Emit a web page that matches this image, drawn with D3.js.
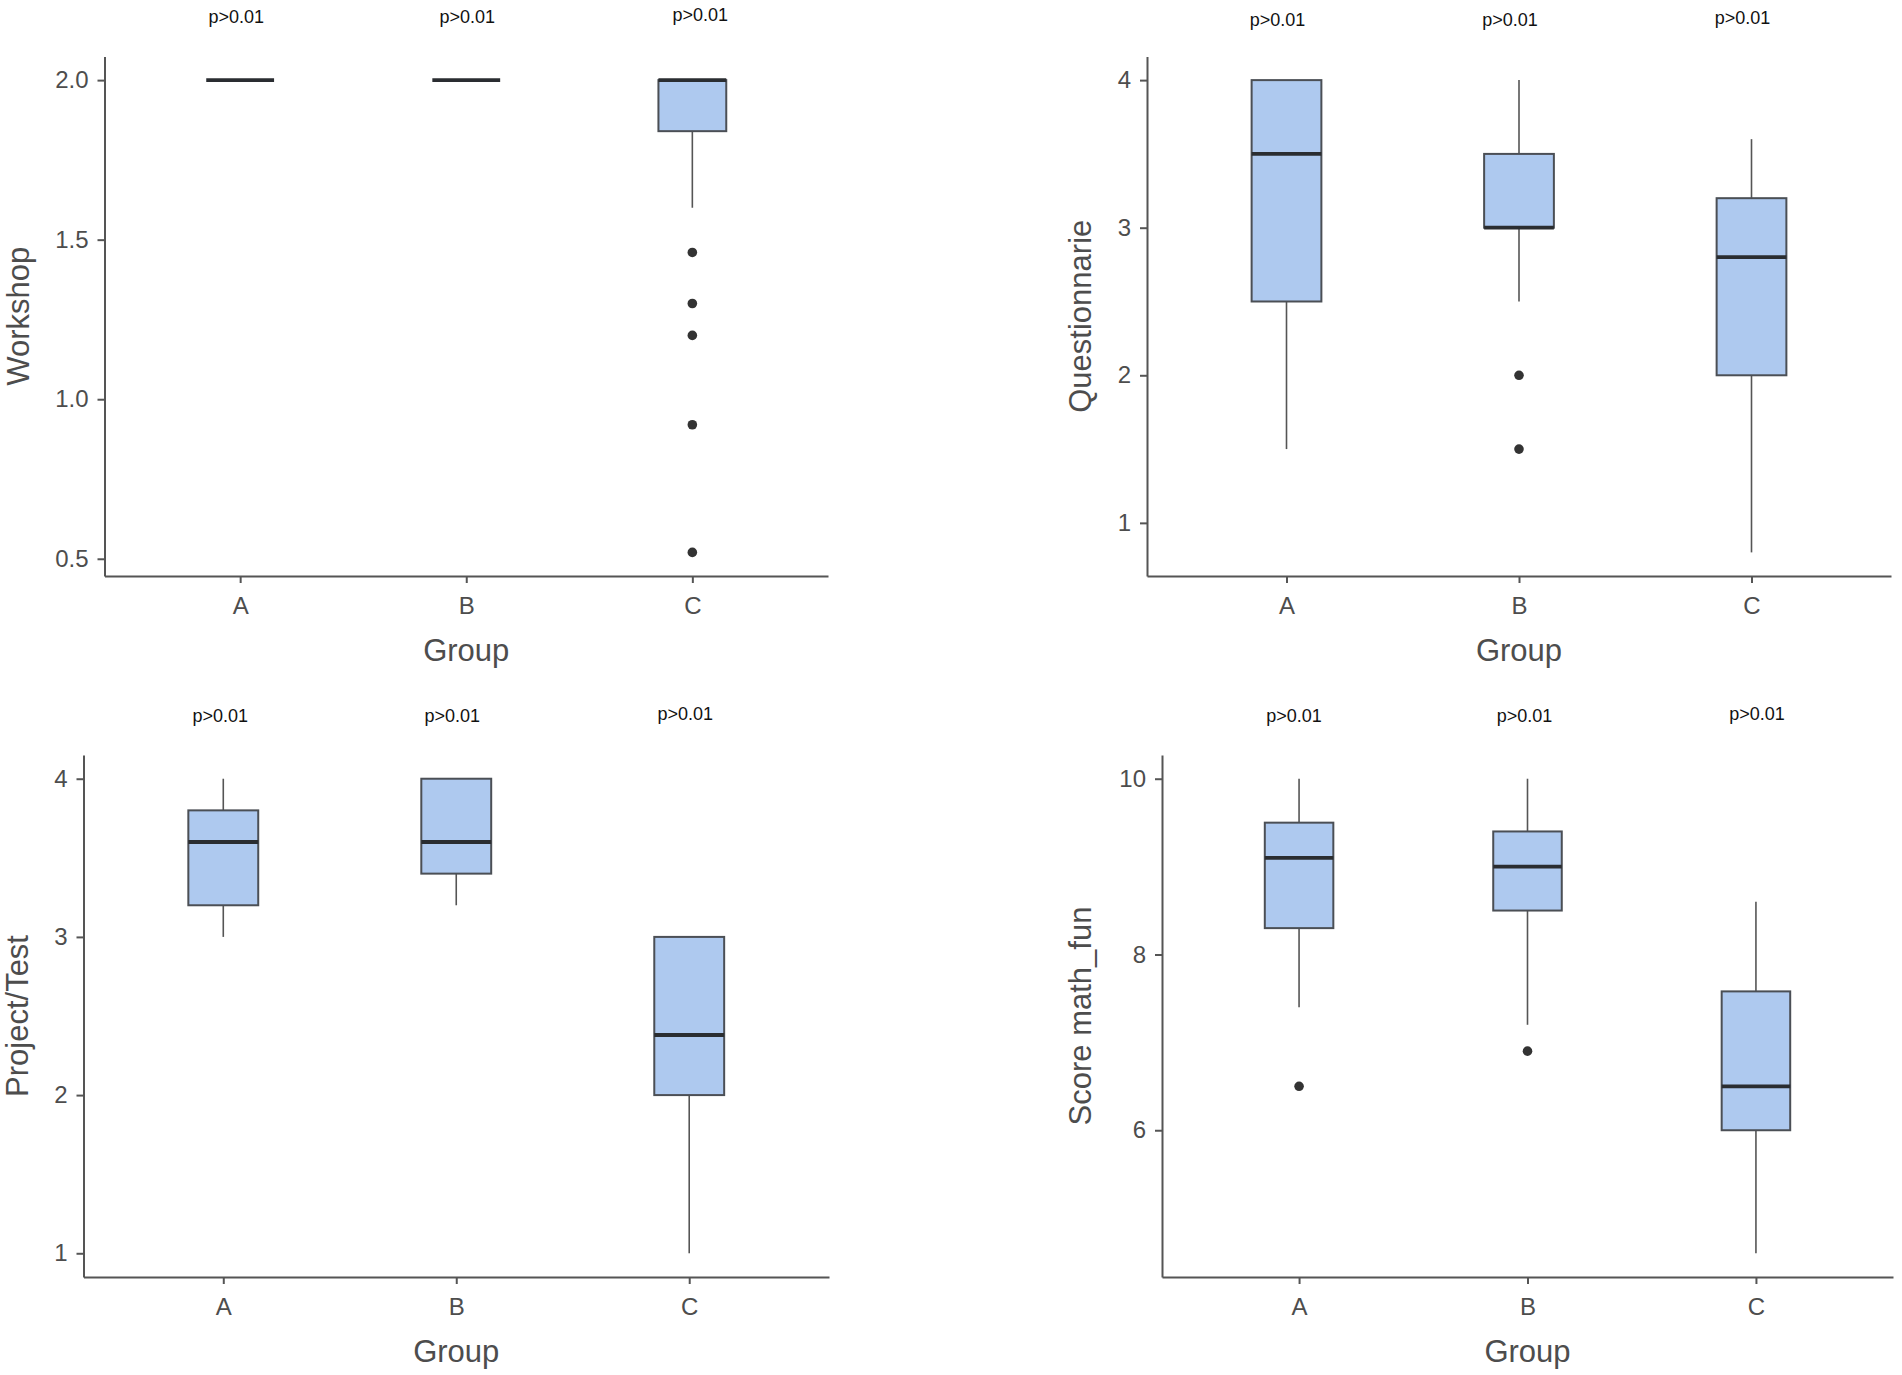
<!DOCTYPE html>
<html>
<head>
<meta charset="utf-8">
<script src="https://cdn.jsdelivr.net/npm/d3@7"></script>
<style>
  body { margin: 0; background: #fff; }
  svg { display: block; }
</style>
</head>
<body>
<svg id="chart" width="1902" height="1375"></svg>
<script>
const groups = ['A', 'B', 'C'];
const pLabels = ['p>0.01', 'p>0.01', 'p>0.01'];

// Workshop
const workshopLow = [2, 2, 1.6];
const workshopQ1 = [2, 2, 1.84];
const workshopMedian = [2, 2, 2];
const workshopQ3 = [2, 2, 2];
const workshopHigh = [2, 2, 2];
const workshopOutliers = [[], [], [1.46, 1.3, 1.2, 0.92, 0.52]];
const workshopTicks = [0.5, 1.0, 1.5, 2.0];

// Questionnarie
const questLow = [1.5, 2.5, 0.8];
const questQ1 = [2.5, 3.0, 2.0];
const questMedian = [3.5, 3.0, 2.8];
const questQ3 = [4.0, 3.5, 3.2];
const questHigh = [4.0, 4.0, 3.6];
const questOutliers = [[], [2.0, 1.5], []];
const questTicks = [1, 2, 3, 4];

// Project/Test
const projectLow = [3.0, 3.2, 1.0];
const projectQ1 = [3.2, 3.4, 2.0];
const projectMedian = [3.6, 3.6, 2.38];
const projectQ3 = [3.8, 4.0, 3.0];
const projectHigh = [4.0, 4.0, 3.0];
const projectOutliers = [[], [], []];
const projectTicks = [1, 2, 3, 4];

// Score math_fun
const scoreLow = [7.4, 7.2, 4.6];
const scoreQ1 = [8.3, 8.5, 6.0];
const scoreMedian = [9.1, 9.0, 6.5];
const scoreQ3 = [9.5, 9.4, 7.58];
const scoreHigh = [10, 10, 8.6];
const scoreOutliers = [[6.5], [6.9], []];
const scoreTicks = [6, 8, 10];

const boxFill = '#aec9ef';
const boxStroke = '#4b4f55';
const textGray = '#4d4d4d';
const axisColor = '#555';

const svg = d3.select('#chart');

function buildBoxes(low, q1, med, q3, high, outliers) {
  return groups.map((g, i) => ({
    group: g, low: low[i], q1: q1[i], median: med[i], q3: q3[i], high: high[i], outliers: outliers[i]
  }));
}

function drawPanel(opt) {
  const boxes = buildBoxes(...opt.stats);
  const allVals = boxes.flatMap(b => [b.low, b.high, ...b.outliers]);
  const lo = d3.min(allVals), hi = d3.max(allVals);
  const pad = (hi - lo) * 0.05;

  const x = d3.scalePoint().domain(groups).range([opt.left, opt.right]).padding(0.6);
  const y = d3.scaleLinear().domain([lo - pad, hi + pad]).range([opt.bottom, opt.top]);
  const boxW = x.step() * 0.3;

  const g = svg.append('g');

  // axes
  const yAxis = g.append('g')
    .attr('transform', `translate(${opt.left},0)`)
    .call(d3.axisLeft(y).tickValues(opt.ticks).tickFormat(opt.fmt).tickSize(7).tickSizeOuter(0).tickPadding(9));
  const xAxis = g.append('g')
    .attr('transform', `translate(0,${opt.bottom})`)
    .call(d3.axisBottom(x).tickSize(7).tickSizeOuter(0).tickPadding(14));

  [yAxis, xAxis].forEach(a => {
    a.select('.domain').attr('stroke', axisColor).attr('stroke-width', 2);
    a.selectAll('.tick line').attr('stroke', axisColor).attr('stroke-width', 2);
    a.selectAll('.tick text')
      .attr('fill', textGray)
      .style('font-family', '"Liberation Sans", Arial, sans-serif')
      .style('font-size', '24px');
  });

  // axis titles
  g.append('text')
    .attr('x', (opt.left + opt.right) / 2)
    .attr('y', opt.bottom + 74)
    .attr('text-anchor', 'middle')
    .attr('dominant-baseline', 'central')
    .attr('fill', textGray)
    .style('font-family', '"Liberation Sans", Arial, sans-serif')
    .style('font-size', '31px')
    .text('Group');

  g.append('text')
    .attr('transform', `translate(${opt.titleX},${(opt.top + opt.bottom) / 2}) rotate(-90)`)
    .attr('text-anchor', 'middle')
    .attr('dominant-baseline', 'central')
    .attr('fill', textGray)
    .style('font-family', '"Liberation Sans", Arial, sans-serif')
    .style('font-size', '31px')
    .text(opt.title);

  const bx = g.selectAll('.box').data(boxes).enter().append('g');

  // whiskers
  bx.append('line')
    .attr('x1', d => x(d.group)).attr('x2', d => x(d.group))
    .attr('y1', d => y(d.q3)).attr('y2', d => y(d.high))
    .attr('stroke', '#555').attr('stroke-width', 1.6);
  bx.append('line')
    .attr('x1', d => x(d.group)).attr('x2', d => x(d.group))
    .attr('y1', d => y(d.q1)).attr('y2', d => y(d.low))
    .attr('stroke', '#555').attr('stroke-width', 1.6);

  // box
  bx.append('rect')
    .attr('x', d => x(d.group) - boxW / 2)
    .attr('width', boxW)
    .attr('y', d => y(d.q3))
    .attr('height', d => y(d.q1) - y(d.q3))
    .attr('fill', boxFill)
    .attr('stroke', boxStroke)
    .attr('stroke-width', 2);

  // median
  bx.append('line')
    .attr('x1', d => x(d.group) - boxW / 2).attr('x2', d => x(d.group) + boxW / 2)
    .attr('y1', d => y(d.median)).attr('y2', d => y(d.median))
    .attr('stroke', '#2a2d31').attr('stroke-width', 3.8);

  // outliers
  bx.selectAll('circle').data(d => d.outliers.map(v => ({ group: d.group, v }))).enter()
    .append('circle')
    .attr('cx', d => x(d.group))
    .attr('cy', d => y(d.v))
    .attr('r', 4.8)
    .attr('fill', '#333');

  // p-value annotations (placed by hand in the original, hence the small nudges)
  g.selectAll('.plab').data(groups).enter().append('text')
    .attr('x', (d, i) => x(d) + opt.pDx[i])
    .attr('y', (d, i) => opt.pY - (i === 2 ? 2 : 0))
    .attr('text-anchor', 'middle')
    .attr('dominant-baseline', 'central')
    .attr('fill', '#111')
    .style('font-family', '"Liberation Sans Narrow", "Liberation Sans", Arial, sans-serif')
    .style('font-size', '18px')
    .text((d, i) => pLabels[i]);
}

drawPanel({
  stats: [workshopLow, workshopQ1, workshopMedian, workshopQ3, workshopHigh, workshopOutliers],
  ticks: workshopTicks, fmt: d3.format('.1f'), title: 'Workshop',
  left: 104.5, right: 828, top: 56.5, bottom: 576, titleX: 18, pY: 17, pDx: [-4, 1, 8]
});
drawPanel({
  stats: [questLow, questQ1, questMedian, questQ3, questHigh, questOutliers],
  ticks: questTicks, fmt: d3.format('d'), title: 'Questionnarie',
  left: 1147, right: 1891, top: 56.5, bottom: 576, titleX: 1080, pY: 20, pDx: [-9, -9, -9]
});
drawPanel({
  stats: [projectLow, projectQ1, projectMedian, projectQ3, projectHigh, projectOutliers],
  ticks: projectTicks, fmt: d3.format('d'), title: 'Project/Test',
  left: 83.5, right: 829, top: 755, bottom: 1277, titleX: 17, pY: 716, pDx: [-3, -4, -4]
});
drawPanel({
  stats: [scoreLow, scoreQ1, scoreMedian, scoreQ3, scoreHigh, scoreOutliers],
  ticks: scoreTicks, fmt: d3.format('d'), title: 'Score math_fun',
  left: 1162, right: 1893, top: 755, bottom: 1277, titleX: 1080, pY: 716, pDx: [-5, -3, 1]
});
</script>
</body>
</html>
